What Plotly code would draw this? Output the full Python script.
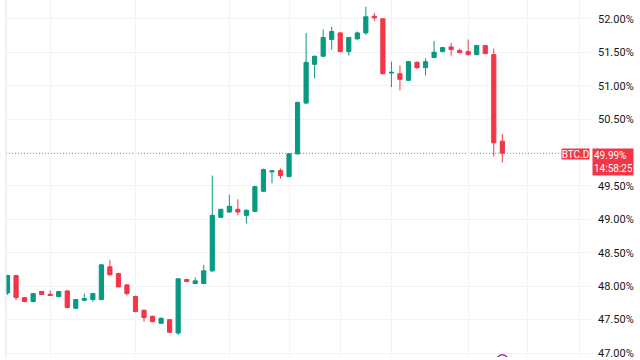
import plotly.graph_objects as go

# ---- data (BTC.D candles) ----
opens = [47.90, 48.16, 47.83, 47.77, 47.92, 47.88, 47.845, 47.93, 47.67, 47.79,
         47.80, 47.80, 48.29, 48.19, 48.02, 47.845, 47.64, 47.55, 47.445, 47.50,
         47.30, 48.10, 48.04, 48.04, 48.23, 49.03, 49.11, 49.15, 49.06, 49.12,
         49.42, 49.71, 49.73, 49.64, 49.98, 50.74, 51.32, 51.44, 51.69, 51.79,
         51.51, 51.70, 51.79, 52.04, 52.00, 51.19, 51.18, 51.08, 51.35, 51.27,
         51.42, 51.51, 51.58, 51.525, 51.51, 51.465, 51.60, 51.465, 50.17]
highs = [48.17, 48.17, 47.84, 47.90, 47.93, 47.935, 47.93, 47.94, 47.81, 47.89,
         47.90, 48.33, 48.395, 48.20, 48.03, 47.86, 47.65, 47.56, 47.53, 47.51,
         48.12, 48.11, 48.13, 48.32, 49.655, 49.16, 49.37, 49.30, 49.15, 49.50,
         49.76, 49.73, 49.76, 49.99, 50.76, 51.79, 51.45, 51.84, 51.88, 51.80,
         51.73, 51.81, 52.18, 52.09, 52.01, 51.36, 51.30, 51.37, 51.36, 51.41,
         51.67, 51.58, 51.64, 51.555, 51.69, 51.61, 51.61, 51.555, 50.28]
lows = [47.87, 47.79, 47.76, 47.76, 47.87, 47.855, 47.84, 47.67, 47.66, 47.78,
        47.77, 47.79, 48.16, 47.985, 47.86, 47.61, 47.47, 47.46, 47.44, 47.30,
        47.27, 48.06, 48.035, 48.03, 48.21, 49.02, 49.10, 49.06, 48.94, 49.11,
        49.41, 49.54, 49.61, 49.63, 49.97, 50.73, 51.11, 51.43, 51.54, 51.50,
        51.45, 51.69, 51.76, 51.97, 51.17, 50.98, 50.93, 51.07, 51.25, 51.155,
        51.41, 51.50, 51.45, 51.48, 51.45, 51.455, 51.47, 49.94, 49.85]
closes = [48.16, 47.83, 47.77, 47.89, 47.875, 47.86, 47.92, 47.68, 47.80, 47.815,
          47.89, 48.32, 48.17, 47.99, 47.89, 47.62, 47.53, 47.47, 47.52, 47.31,
          48.11, 48.07, 48.08, 48.23, 49.06, 49.15, 49.195, 49.11, 49.135, 49.49,
          49.745, 49.725, 49.655, 49.98, 50.75, 51.35, 51.44, 51.72, 51.81, 51.51,
          51.72, 51.79, 52.03, 52.015, 51.18, 51.20, 51.095, 51.36, 51.27, 51.36,
          51.50, 51.57, 51.54, 51.495, 51.465, 51.60, 51.48, 50.145, 49.99]
bar_index = list(range(len(opens)))

y_ticks = [47.0, 47.5, 48.0, 48.5, 49.0, 49.5, 50.0, 50.5, 51.0, 51.5, 52.0]
y_tick_text = ["47.00%", "47.50%", "48.00%", "48.50%", "49.00%", "49.50%", "",
               "50.50%", "51.00%", "51.50%", "52.00%"]
x_grid = [5, 15, 26, 33, 39, 45, 54, 61, 67]

symbol = "BTC.D"
last_price = "49.99%"
countdown = "14:58:25"
last_value = 49.99

UP = "#089981"
DOWN = "#F23645"

fig = go.Figure()
fig.add_trace(go.Candlestick(
    x=bar_index, open=opens, high=highs, low=lows, close=closes,
    increasing=dict(line=dict(color=UP, width=1), fillcolor=UP),
    decreasing=dict(line=dict(color=DOWN, width=1), fillcolor=DOWN),
    whiskerwidth=0, showlegend=False, hoverinfo="skip",
))

# last price dotted line
fig.add_shape(type="line", xref="paper", x0=0, x1=1, yref="y", y0=last_value, y1=last_value,
              line=dict(color=DOWN, width=1, dash="1px,2px"), layer="below")
# left border
fig.add_shape(type="line", xref="paper", x0=0, x1=0, yref="paper", y0=0, y1=1,
              line=dict(color="#e0e3eb", width=1))
# event marker at bottom
fig.add_shape(type="circle", xref="x", yref="y", x0=57.35, x1=58.65, y0=46.80, y1=46.975,
              line=dict(color="#9c27b0", width=1.5), fillcolor="white")

fig.add_annotation(x=1, xref="paper", xanchor="right", y=last_value, yref="y", yanchor="top",
                   text=symbol, showarrow=False, bgcolor=DOWN,
                   font=dict(color="white", size=10, family="Roboto"),
                   borderpad=0, width=27, height=10, yshift=5, xshift=0)
fig.add_annotation(x=1, xref="paper", xanchor="left", y=last_value, yref="y", yanchor="top",
                   text=last_price + "<br>" + countdown, showarrow=False, bgcolor=DOWN,
                   font=dict(color="white", size=10, family="Roboto"), align="left",
                   borderpad=1, yshift=5, xshift=1.5, width=38)

fig.update_layout(
    width=640, height=360,
    margin=dict(l=6, r=50, t=0, b=0),
    paper_bgcolor="white", plot_bgcolor="white",
    font=dict(family="Roboto", size=11, color="#131722"),
    xaxis=dict(range=[-0.18, 68.28], rangeslider=dict(visible=False), tickvals=x_grid,
               showticklabels=False, showgrid=True, gridcolor="#f0f3fa", zeroline=False,
               ticks=""),
    yaxis=dict(side="right", range=[46.941, 52.282], tickvals=y_ticks, ticktext=y_tick_text,
               showgrid=True, gridcolor="#f0f3fa", zeroline=False, ticks="",
               ticklabelstandoff=7, ticklabeloverflow="allow",
               tickfont=dict(size=11, color="#131722")),
)

fig.write_html("out.html")
